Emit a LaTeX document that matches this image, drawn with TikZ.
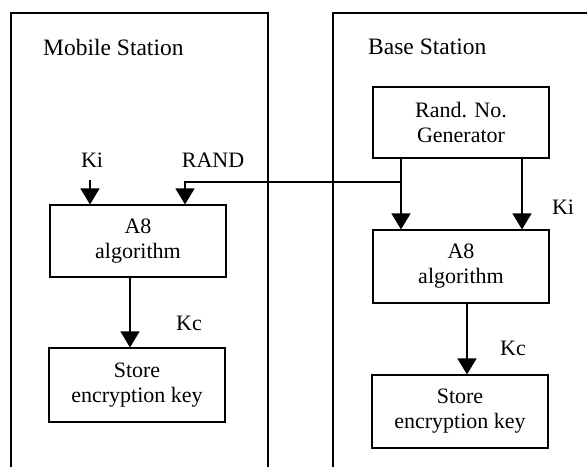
\documentclass[tikz,border=0pt]{standalone}
\usepackage{fontspec}
\setmainfont{Liberation Serif}
\usetikzlibrary{arrows.meta}
\begin{document}
\begin{tikzpicture}[x=1pt,y=-1pt,
  every node/.style={font=\fontsize{22}{25}\selectfont, inner sep=0pt},
  blk/.style={draw, line width=1.1pt, minimum width=176pt, align=center},
  arr/.style={line width=1.1pt, -{Triangle[length=16pt,width=19pt]}},
  frame/.style={line width=1.1pt},
  ttl/.style={font=\fontsize{23.5}{27}\selectfont, anchor=west}]
\useasboundingbox (0,0) rectangle (587,467);
% frames
\draw[frame] (11,467) -- (11,13) -- (268,13) -- (268,467);
\draw[frame] (333,467) -- (333,13) -- (587,13);
\node[ttl] (mst) at (43,47) {Mobile Station};
\node[ttl] (bst) at (368,47) {Base Station};
% blocks
\node[blk, minimum height=72pt] (mA8) at (138,241) {A8\\algorithm};
\node[blk, minimum height=74pt] (mst2) at (137,385) {Store\\encryption key};
\node[blk, minimum height=71pt] (gen) at (461,122.5) {Rand. No.\\Generator};
\node[blk, minimum height=73pt] (bA8) at (461,266.5) {A8\\algorithm};
\node[blk, minimum height=73pt] (bst2) at (460,411.5) {Store\\encryption key};
% labels
\node (lki) at (92,160) {Ki};
\node (lrand) at (213,160) {RAND};
\node (lkc) at (189,323) {Kc};
\node (bki) at (563,207) {Ki};
\node (bkc) at (513,348) {Kc};
% connectors
\coordinate (kitop) at (90,180);
\coordinate (rsplit) at (401,182);
\coordinate (rmob) at (185,182);
\coordinate (kib) at (522,0);
\coordinate (mkc) at (130,0);
\coordinate (bkcx) at (467,0);
\draw[arr] (kitop) -- (kitop |- mA8.north);
\draw[arr] (gen.south -| rsplit) -- (bA8.north -| rsplit);
\draw[arr] (rsplit) -- (rmob) -- (rmob |- mA8.north);
\draw[arr] (gen.south -| kib) -- (bA8.north -| kib);
\draw[arr] (mA8.south -| mkc) -- (mst2.north -| mkc);
\draw[arr] (bA8.south -| bkcx) -- (bst2.north -| bkcx);
\end{tikzpicture}
\end{document}
